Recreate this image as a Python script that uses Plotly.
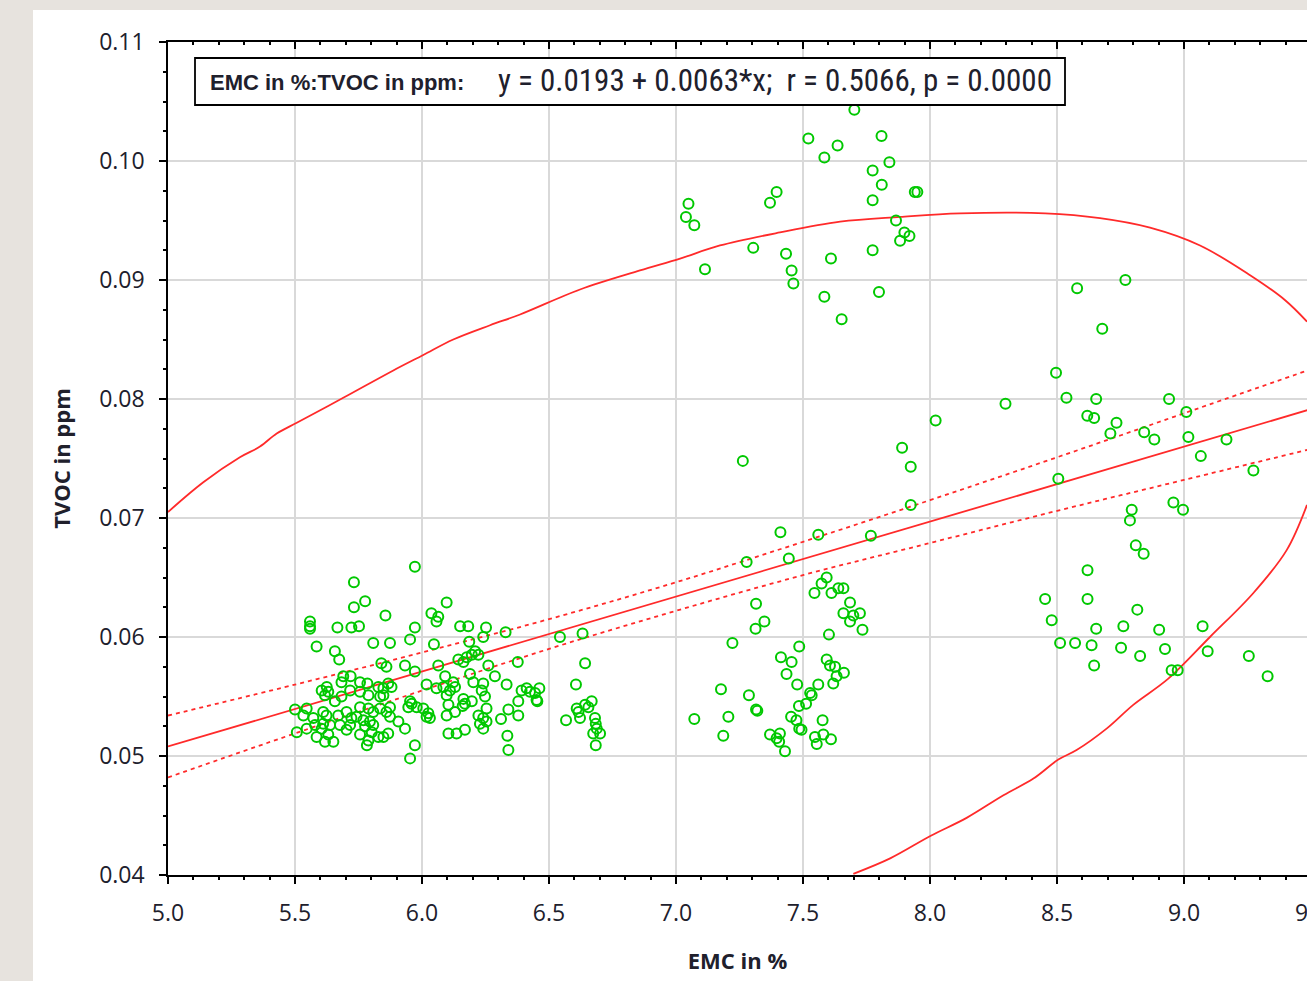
import plotly.graph_objects as go

# ---------------- data ----------------
emc_a = [5.972,5.732,5.776,5.732,5.856,5.559,5.559,5.559,5.667,5.722,5.752,5.972,5.953,6.097,6.037,6.064,6.057,
         5.585,5.808,5.874,6.047,5.657,5.674,5.840,5.860,5.933,5.972,6.064,6.091,5.690,5.719,5.683,5.625,5.605,
         5.631,5.618,5.756,5.785,5.828,5.867,5.880,5.848,5.717,5.756,5.789,5.835,5.848,5.683,5.657,6.018,6.057,
         6.084,5.500,5.546,5.533,5.572,5.611,5.624,5.579,5.611,5.638,5.605,5.670,5.703,5.722,5.742,5.677,5.717,
         5.703,5.507,5.546,5.585,5.618,5.651,5.631,5.756,5.789,5.808,5.835,5.860,5.874,5.769,5.795,5.776,5.808,
         5.802,5.756,5.789,5.783,5.828,5.848,5.867,5.874,5.907,5.933,5.953,5.979,5.946,5.959,6.005,6.025,6.018,
         6.031,6.097,6.104,6.097,6.104,6.136,6.130,5.972,5.953]
tvoc_a = [0.0659,0.0646,0.0630,0.0625,0.0618,0.0613,0.0609,0.0607,0.0608,0.0608,0.0609,0.0608,0.0598,0.0629,0.0620,
          0.0617,0.0613,0.0592,0.0595,0.0595,0.0594,0.0588,0.0581,0.0578,0.0575,0.0576,0.0571,0.0576,0.0567,0.0567,
          0.0567,0.0562,0.0558,0.0555,0.0554,0.0551,0.0562,0.0561,0.0558,0.0561,0.0558,0.0557,0.0555,0.0554,0.0551,
          0.0550,0.0551,0.0550,0.0546,0.0560,0.0557,0.0558,0.0539,0.0540,0.0534,0.0532,0.0537,0.0534,0.0526,0.0527,
          0.0526,0.0523,0.0534,0.0537,0.0532,0.0533,0.0526,0.0526,0.0522,0.0520,0.0523,0.0516,0.0512,0.0512,0.0518,
          0.0541,0.0540,0.0537,0.0540,0.0537,0.0541,0.0530,0.0529,0.0525,0.0526,0.0520,0.0518,0.0513,0.0509,0.0516,
          0.0516,0.0519,0.0533,0.0529,0.0523,0.0546,0.0541,0.0541,0.0544,0.0540,0.0536,0.0533,0.0532,0.0551,0.0543,
          0.0534,0.0519,0.0519,0.0537,0.0509,0.0498]

emc_b = [6.543,6.632,6.642,6.606,6.567,6.609,6.616,6.622,6.642,6.668,6.655,6.681,6.684,6.688,6.674,6.701,6.684,
         6.377,6.329,6.252,6.241,6.186,6.150,6.182,6.209,6.196,6.222,6.176,6.143,6.163,6.261,6.189,6.202,6.287,
         6.241,6.235,6.333,6.392,6.412,6.425,6.445,6.462,6.451,6.454,6.379,6.123,6.130,6.110,6.163,6.169,6.196,
         6.160,6.248,6.254,6.241,6.222,6.228,6.241,6.254,6.340,6.379,6.311,6.336,6.340,6.169]
tvoc_b = [0.0600,0.0603,0.0578,0.0560,0.0530,0.0540,0.0537,0.0532,0.0543,0.0546,0.0541,0.0532,0.0527,0.0523,0.0519,
          0.0519,0.0509,0.0579,0.0604,0.0608,0.0600,0.0596,0.0609,0.0609,0.0588,0.0585,0.0585,0.0583,0.0581,0.0579,
          0.0576,0.0569,0.0562,0.0567,0.0561,0.0555,0.0560,0.0555,0.0557,0.0554,0.0553,0.0557,0.0547,0.0546,0.0546,
          0.0562,0.0558,0.0555,0.0548,0.0544,0.0546,0.0542,0.0550,0.0540,0.0532,0.0534,0.0527,0.0523,0.0529,0.0539,
          0.0534,0.0531,0.0517,0.0505,0.0522]

emc_c = [7.263,7.890,7.924,7.924,8.022,8.297,7.411,7.560,7.767,7.444,7.278,7.593,7.573,7.545,7.612,7.639,7.659,
         7.685,7.659,7.698,7.724,7.685,7.734,7.602,7.315,7.348,7.313,7.222,7.485,7.413,7.455,7.593,7.606,7.626,
         7.435,7.661,7.632,7.619,7.477,7.560,7.177,7.287,7.528,7.534,7.512,7.484,7.315,7.320,7.072,7.206,7.453,
         7.474,7.485,7.494,7.577,7.186,7.370,7.409,7.396,7.406,7.429,7.547,7.554,7.580,7.610]
tvoc_c = [0.0748,0.0759,0.0743,0.0711,0.0782,0.0796,0.0688,0.0686,0.0685,0.0666,0.0663,0.0650,0.0645,0.0637,0.0637,
          0.0641,0.0641,0.0629,0.0620,0.0618,0.0620,0.0613,0.0606,0.0602,0.0628,0.0613,0.0607,0.0595,0.0592,0.0583,
          0.0579,0.0581,0.0576,0.0575,0.0569,0.0570,0.0567,0.0561,0.0560,0.0560,0.0556,0.0551,0.0553,0.0551,0.0544,
          0.0542,0.0539,0.0538,0.0531,0.0533,0.0533,0.0530,0.0523,0.0522,0.0530,0.0517,0.0518,0.0519,0.0515,0.0512,
          0.0504,0.0516,0.0510,0.0518,0.0514]

emc_d = [7.702,7.521,7.636,7.809,7.584,7.840,7.774,7.810,7.774,7.940,7.950,7.396,7.370,7.049,7.039,7.072,7.866,
         7.899,7.919,7.882,7.304,7.433,7.774,7.610,7.114,7.455,7.462,7.584,7.799,7.652]
tvoc_d = [0.1043,0.1019,0.1013,0.1021,0.1003,0.0999,0.0992,0.0980,0.0967,0.0974,0.0974,0.0974,0.0965,0.0964,0.0953,
          0.0946,0.0950,0.0940,0.0937,0.0933,0.0927,0.0922,0.0925,0.0918,0.0909,0.0908,0.0897,0.0886,0.0890,0.0867]

emc_e = [8.769,8.579,8.678,8.496,8.537,8.654,8.941,9.009,8.619,8.646,8.734,8.710,8.843,8.883,9.017,9.167,9.066,
         8.505,9.273,8.958,8.996,8.794,8.787,8.810,8.841,8.620,8.453,8.620,8.479,8.816,8.654,8.761,8.902,9.073,
         8.512,8.571,8.636,8.752,8.925,9.093,8.827,9.255,8.646,8.951,8.975,9.329]
tvoc_e = [0.0900,0.0893,0.0859,0.0822,0.0801,0.0800,0.0800,0.0789,0.0786,0.0784,0.0780,0.0771,0.0772,0.0766,0.0768,
          0.0766,0.0752,0.0733,0.0740,0.0713,0.0707,0.0707,0.0698,0.0677,0.0670,0.0656,0.0632,0.0632,0.0614,0.0623,
          0.0607,0.0609,0.0606,0.0609,0.0595,0.0595,0.0593,0.0591,0.0590,0.0588,0.0584,0.0584,0.0576,0.0572,0.0572,
          0.0567]

# regression (from the equation in the box)
intercept = 0.0193
slope = 0.0063
line_x = [5.0, 9.5]

# 95% confidence band of the regression line (read)
band_x = [5.0, 5.5, 6.0, 6.5, 7.0, 7.5, 8.0, 8.5, 9.0, 9.5]
band_upper = [0.0534, 0.0560, 0.0587, 0.0615, 0.0646, 0.0680, 0.0715, 0.0751, 0.0788, 0.0825]
band_lower = [0.0482, 0.0519, 0.0555, 0.0590, 0.0622, 0.0652, 0.0679, 0.0706, 0.0732, 0.0758]

# prediction ellipse (read, visible parts)
ell_up_x = [5.0, 5.139, 5.283, 5.362, 5.428, 5.507, 5.690, 5.887, 6.005, 6.123, 6.268, 6.386, 6.622, 6.858,
            7.016, 7.173, 7.409, 7.646, 7.882, 8.118, 8.453, 8.669, 8.866, 9.063, 9.260, 9.398, 9.484]
ell_up_y = [0.0705, 0.0730, 0.0751, 0.0760, 0.0771, 0.0780, 0.0801, 0.0824, 0.0837, 0.0850, 0.0862, 0.0871, 0.0892,
            0.0908, 0.0918, 0.0929, 0.0940, 0.0949, 0.0953, 0.0956, 0.0956, 0.0952, 0.0944, 0.0929, 0.0904, 0.0883,
            0.0865]
ell_lo_x = [9.484, 9.404, 9.273, 9.102, 8.938, 8.800, 8.695, 8.577, 8.505, 8.407, 8.289, 8.144, 8.003, 7.843, 7.698]
ell_lo_y = [0.0711, 0.0673, 0.0637, 0.0600, 0.0565, 0.0543, 0.0523, 0.0505, 0.0497, 0.0481, 0.0467, 0.0448, 0.0433,
            0.0414, 0.0401]

x_range = [5.0, 9.484]
y_range = [0.04, 0.11]

# ---------------- figure ----------------
emc = emc_a + emc_b + emc_c + emc_d + emc_e
tvoc = tvoc_a + tvoc_b + tvoc_c + tvoc_d + tvoc_e

RED = "#ff2a2a"
GREEN = "#00c800"
TXT = "#20202c"

fig = go.Figure()

fig.add_trace(go.Scatter(x=ell_up_x, y=ell_up_y, mode="lines", line=dict(color=RED, width=1.8, shape="spline"),
                         hoverinfo="skip", showlegend=False))
fig.add_trace(go.Scatter(x=ell_lo_x, y=ell_lo_y, mode="lines", line=dict(color=RED, width=1.8, shape="spline"),
                         hoverinfo="skip", showlegend=False))
fig.add_trace(go.Scatter(x=band_x, y=band_upper, mode="lines",
                         line=dict(color=RED, width=1.8, dash="4px,4px", shape="spline"),
                         hoverinfo="skip", showlegend=False))
fig.add_trace(go.Scatter(x=band_x, y=band_lower, mode="lines",
                         line=dict(color=RED, width=1.8, dash="4px,4px", shape="spline"),
                         hoverinfo="skip", showlegend=False))
fig.add_trace(go.Scatter(x=line_x, y=[intercept + slope * v for v in line_x], mode="lines",
                         line=dict(color=RED, width=1.8), hoverinfo="skip", showlegend=False))
fig.add_trace(go.Scatter(x=emc, y=tvoc, mode="markers",
                         marker=dict(symbol="circle-open", size=10, color=GREEN, line=dict(width=2)),
                         showlegend=False))
# dummy trace for the top mirror axis
fig.add_trace(go.Scatter(x=[x_range[0]], y=[y_range[0]], xaxis="x2", mode="markers",
                         marker=dict(opacity=0), hoverinfo="skip", showlegend=False))

tickfont = dict(family="Open Sans, Noto Sans, DejaVu Sans", size=23, color=TXT)
titlefont = dict(family="Open Sans, Noto Sans", size=22, color=TXT)

fig.update_layout(
    width=1307, height=981,
    margin=dict(l=168, r=0, t=42, b=106),
    paper_bgcolor="#e7e3de",
    plot_bgcolor="white",
    xaxis=dict(range=x_range, dtick=0.5, tick0=5.0, tickformat=".1f", showgrid=True,
               gridcolor="#d9d9d9", gridwidth=1.5, showline=True, linecolor="black", linewidth=1.5,
               ticks="outside", ticklen=7, tickwidth=1.5, tickcolor="black", tickfont=tickfont,
               ticklabelstandoff=10, zeroline=False,
               minor=dict(dtick=0.1, ticks="outside", ticklen=3, tickcolor="black", showgrid=False),
               title=dict(text="<b>EMC in %</b>", font=titlefont, standoff=26)),
    xaxis2=dict(range=x_range, overlaying="x", side="top", anchor="y", showline=True, linecolor="black",
                linewidth=1.5, ticks="inside", ticklen=7, tickwidth=1.5, tickcolor="black",
                dtick=0.5, tick0=5.0, showticklabels=False, showgrid=False, zeroline=False,
                minor=dict(dtick=0.1, ticks="inside", ticklen=3, tickcolor="black", showgrid=False)),
    yaxis=dict(range=y_range, dtick=0.01, tick0=0.04, tickformat=".2f", showgrid=True,
               gridcolor="#d9d9d9", gridwidth=1.5, showline=True, linecolor="black", linewidth=1.5,
               ticks="outside", ticklen=7, tickwidth=1.5, tickcolor="black", tickfont=tickfont,
               ticklabelstandoff=10, zeroline=False,
               minor=dict(dtick=0.0025, ticks="outside", ticklen=3, tickcolor="black", showgrid=False),
               title=dict(text="<b>TVOC in ppm</b>", font=titlefont, standoff=22)),
)

# white chart panel behind everything
W, H = 1307 - 168, 875 - 42
def px_x(p):
    return (p - 168) / W
def px_y(p):
    return (875 - p) / H

fig.add_shape(type="rect", xref="paper", yref="paper", x0=px_x(33), x1=px_x(1320), y0=px_y(1000), y1=px_y(10),
              fillcolor="white", line=dict(width=0), layer="below")

# equation box
fig.add_shape(type="rect", xref="paper", yref="paper", x0=px_x(195), x1=px_x(1065), y0=px_y(105), y1=px_y(58),
              fillcolor="white", line=dict(color="black", width=1.8), layer="above")
fig.add_annotation(xref="paper", yref="paper", x=px_x(208), y=px_y(82), xanchor="left", yanchor="middle",
                   text="<b>EMC in %:TVOC in ppm:</b>", showarrow=False,
                   font=dict(family="Liberation Sans, Arimo, Arial", size=22, color=TXT))
fig.add_annotation(xref="paper", yref="paper", x=px_x(496), y=px_y(81), xanchor="left", yanchor="middle",
                   text="y = 0.0193 + 0.0063*x;&nbsp;&nbsp;r = 0.5066, p = 0.0000", showarrow=False,
                   font=dict(family="Liberation Sans Narrow, Roboto Condensed, Arial Narrow, Roboto", size=31, color=TXT))

# cut-off 9.5 tick label at the right edge
fig.add_annotation(xref="paper", yref="paper", x=(9.5 - x_range[0]) / (x_range[1] - x_range[0]), y=px_y(912),
                   xanchor="center", yanchor="middle", text="9.5", showarrow=False, font=tickfont)

fig.write_html("out.html", config={"displayModeBar": False},
               post_script="document.body.style.margin='0px';document.body.style.overflow='hidden';")
